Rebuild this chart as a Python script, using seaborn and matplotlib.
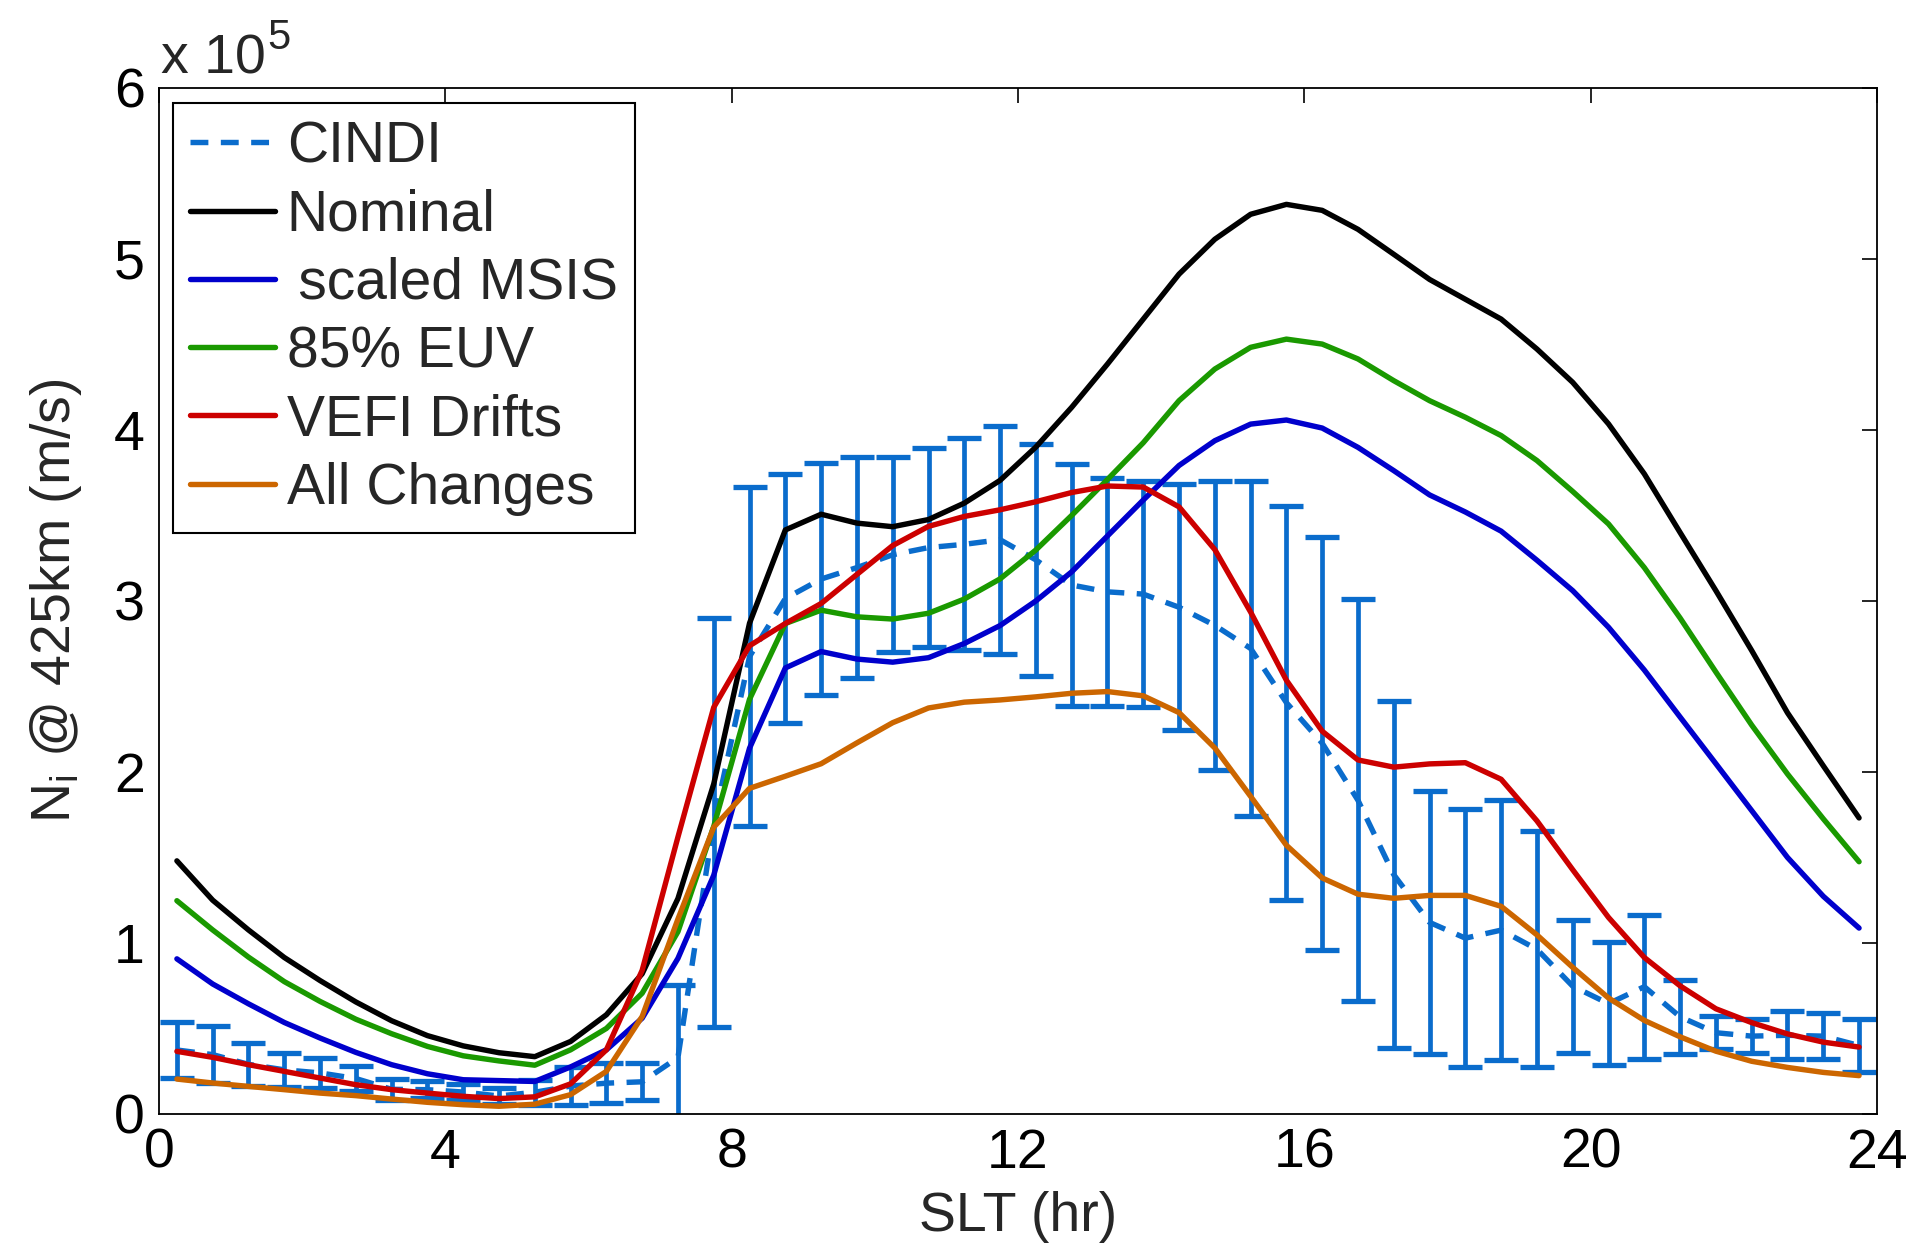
import numpy as np
import pandas as pd
import matplotlib
matplotlib.use("Agg")
import matplotlib.pyplot as plt
import seaborn as sns

# Solar local time bins (hr), centred on half-hour bins
slt = np.arange(0.25, 24.0, 0.5)

# Ion density at 425 km, in units of 1e5
nominal = [1.48, 1.25, 1.076, 0.915, 0.78, 0.655, 0.545, 0.458, 0.398, 0.358,
           0.335, 0.424, 0.58, 0.82, 1.26, 1.93, 2.87, 3.415, 3.507, 3.455,
           3.434, 3.476, 3.572, 3.705, 3.9, 4.132, 4.385, 4.648, 4.911, 5.115,
           5.261, 5.319, 5.284, 5.173, 5.027, 4.88, 4.764, 4.648, 4.473, 4.278,
           4.035, 3.743, 3.40, 3.06, 2.71, 2.346, 2.036, 1.731]
scaled_msis = [0.907, 0.76, 0.644, 0.535, 0.444, 0.36, 0.288, 0.235, 0.2, 0.195,
               0.19, 0.275, 0.375, 0.56, 0.91, 1.396, 2.139, 2.608, 2.704, 2.66,
               2.642, 2.668, 2.751, 2.856, 3.0, 3.17, 3.38, 3.59, 3.792, 3.937,
               4.034, 4.058, 4.011, 3.898, 3.762, 3.62, 3.52, 3.408, 3.238, 3.06,
               2.846, 2.596, 2.321, 2.048, 1.774, 1.5, 1.273, 1.087]
euv_85 = [1.247, 1.076, 0.917, 0.774, 0.658, 0.554, 0.469, 0.395, 0.34, 0.31,
          0.285, 0.375, 0.5, 0.706, 1.066, 1.682, 2.425, 2.868, 2.946, 2.907,
          2.894, 2.928, 3.011, 3.129, 3.298, 3.5, 3.71, 3.925, 4.171, 4.356,
          4.483, 4.531, 4.502, 4.415, 4.288, 4.171, 4.074, 3.967, 3.821, 3.64,
          3.45, 3.195, 2.9, 2.584, 2.274, 1.988, 1.726, 1.475]
vefi_drifts = [0.366, 0.331, 0.288, 0.249, 0.21, 0.171, 0.142, 0.122, 0.103, 0.09,
               0.1, 0.176, 0.375, 0.84, 1.62, 2.378, 2.738, 2.868, 2.985, 3.155,
               3.324, 3.436, 3.494, 3.533, 3.58, 3.634, 3.672, 3.666, 3.55, 3.30,
               2.935, 2.536, 2.238, 2.07, 2.028, 2.047, 2.054, 1.957, 1.714, 1.428,
               1.149, 0.915, 0.749, 0.615, 0.534, 0.468, 0.42, 0.391]
all_changes = [0.204, 0.181, 0.161, 0.142, 0.122, 0.107, 0.087, 0.068, 0.054, 0.045,
               0.057, 0.113, 0.249, 0.57, 1.14, 1.677, 1.904, 1.975, 2.048, 2.17,
               2.288, 2.374, 2.408, 2.421, 2.439, 2.46, 2.47, 2.445, 2.347, 2.14,
               1.857, 1.571, 1.38, 1.285, 1.261, 1.278, 1.278, 1.214, 1.047, 0.857,
               0.678, 0.547, 0.451, 0.367, 0.308, 0.272, 0.243, 0.224]
cindi_mean = [0.374, 0.347, 0.29, 0.258, 0.24, 0.207, 0.144, 0.142, 0.128, 0.105,
              0.127, 0.163, 0.18, 0.188, 0.33, 1.705, 2.675, 3.014, 3.128, 3.195,
              3.27, 3.312, 3.331, 3.358, 3.24, 3.093, 3.053, 3.04, 2.963, 2.857,
              2.722, 2.405, 2.168, 1.834, 1.399, 1.12, 1.028, 1.075, 0.963, 0.747,
              0.645, 0.744, 0.568, 0.475, 0.455, 0.46, 0.455, 0.40]
cindi_std = [0.164, 0.166, 0.127, 0.10, 0.088, 0.075, 0.06, 0.049, 0.048, 0.045,
             0.072, 0.109, 0.115, 0.109, 0.425, 1.196, 0.993, 0.727, 0.678, 0.645,
             0.57, 0.58, 0.619, 0.667, 0.677, 0.707, 0.667, 0.66, 0.72, 0.843,
             0.982, 1.151, 1.208, 1.176, 1.013, 0.768, 0.756, 0.76, 0.691, 0.389,
             0.359, 0.42, 0.215, 0.098, 0.10, 0.141, 0.136, 0.153]

series_names = ["Nominal", "\u2009scaled MSIS", "85% EUV", "VEFI Drifts", "All Changes"]
series_values = [nominal, scaled_msis, euv_85, vefi_drifts, all_changes]
series_colors = ["#000000", "#0000cc", "#1a9900", "#cc0000", "#cc6600"]
cindi_color = "#0a6ccc"

df = pd.concat(
    [pd.DataFrame({"SLT": slt, "Ni": vals, "run": name})
     for name, vals in zip(series_names, series_values)],
    ignore_index=True)
cindi = pd.DataFrame({"SLT": slt, "Ni": cindi_mean, "sd": cindi_std})

sns.set_theme(style="white")
plt.rcParams["font.family"] = ["Liberation Sans", "DejaVu Sans"]
plt.rcParams["mathtext.fontset"] = "custom"
plt.rcParams["mathtext.rm"] = "Liberation Sans"
plt.rcParams["mathtext.it"] = "Liberation Sans"
plt.rcParams["mathtext.bf"] = "Liberation Sans:bold"

fig = plt.figure(figsize=(19.18, 12.47), dpi=100)
ax = fig.add_axes([0.0829, 0.1067, 0.8957, 0.8228])

LW = 3.9

# CINDI observations: mean with standard-deviation bars
ax.errorbar(cindi["SLT"], cindi["Ni"], yerr=cindi["sd"], fmt="none",
            ecolor=cindi_color, elinewidth=3.4, capsize=12, capthick=3.8,
            zorder=2)
sns.lineplot(data=cindi, x="SLT", y="Ni", color=cindi_color, lw=LW,
             linestyle=(0, (3.3, 2.3)), errorbar=None, label="CINDI",
             ax=ax, zorder=3)

# Model runs
for i, (name, color) in enumerate(zip(series_names, series_colors)):
    sns.lineplot(data=df[df["run"] == name], x="SLT", y="Ni", color=color,
                 lw=LW, errorbar=None, label=name, ax=ax, zorder=4 + i)

ax.set_xlim(0, 24)
ax.set_ylim(0, 6)
ax.set_xticks(np.arange(0, 25, 4))
ax.set_yticks(np.arange(0, 7, 1))
ax.tick_params(direction="in", length=11, width=1.2, top=True, right=True,
               labelsize=40, colors="black", pad=10)
for sp in ax.spines.values():
    sp.set_linewidth(1.3)
    sp.set_color("black")

ax.set_xlabel("SLT (hr)", fontsize=40, labelpad=8)
ax.set_ylabel(r"N$_\mathregular{i}$ @ 425km (m/s)", fontsize=40, labelpad=22)

# Exponent label above the y axis
base = ax.text(0.001, 1.014, "x 10", transform=ax.transAxes,
               fontsize=40, ha="left", va="baseline")
ax.annotate("5", xy=(1.0, 1.0), xycoords=base, xytext=(1, -11),
            textcoords="offset points", fontsize=30, ha="left",
            va="baseline")

leg = ax.legend(loc="upper left", bbox_to_anchor=(0.008, 0.985),
                borderaxespad=0, fontsize=41, frameon=True, fancybox=False,
                edgecolor="black", framealpha=1, borderpad=0.3,
                handlelength=1.5, handletextpad=0.2, labelspacing=0.25)
leg.get_frame().set_linewidth(1.5)

fig.savefig("out.png", dpi=100, facecolor="white")
